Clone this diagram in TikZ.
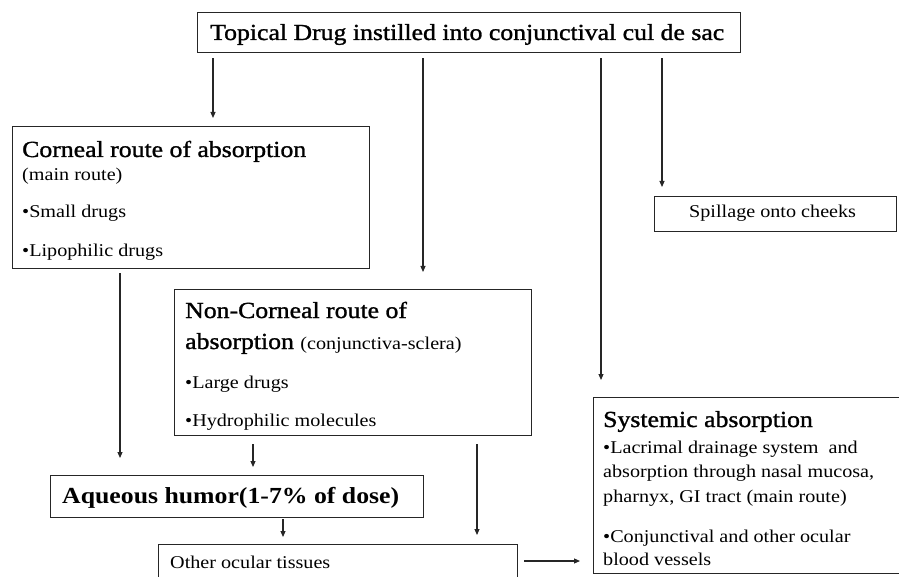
\documentclass[tikz,border=0pt]{standalone}
\usepackage{fontspec}
\setmainfont{Liberation Serif}[FakeStretch=1.12]
\newfontfamily\headfont{Liberation Serif}[FakeStretch=1.12, FakeBold=1.2]
\usetikzlibrary{arrows.meta}
\tikzset{
  box/.style={draw=black!85, line width=1.4pt, inner sep=0pt, anchor=north west},
  arr/.style={draw=black!85, line width=1.1pt, -{Triangle[length=6pt,width=5pt]}},
  txt/.style={anchor=base west, inner sep=0pt, align=left},
}
\newcommand{\fs}[1]{\fontsize{#1}{#1}\selectfont}
\begin{document}
\begin{tikzpicture}[x=1pt,y=-1pt]
\clip (0,0) rectangle (899,577);
\fill[white] (0,0) rectangle (899,577);
% boxes
\node[box, minimum width=543pt, minimum height=40pt] (top) at (197,12) {};
\node[box, minimum width=357pt, minimum height=142pt] (corn) at (12,126) {};
\node[box, minimum width=357pt, minimum height=146pt] (ncorn) at (174,289) {};
\node[box, minimum width=242pt, minimum height=35pt] (spill) at (654,196) {};
\node[box, minimum width=320pt, minimum height=176pt] (sys) at (593,397) {};
\node[box, minimum width=373pt, minimum height=42pt] (aq) at (50,475) {};
\node[box, minimum width=359pt, minimum height=50pt] (oth) at (158,544) {};
% texts
\node[txt] (t1) at (210,40) {\fs{23}\headfont Topical Drug instilled into conjunctival cul de sac};
\node[txt] (c1) at (22,157) {\fs{23}\headfont Corneal route of absorption};
\node[txt] (c2) at (22,181) {\fs{18}(main route)};
\node[txt] (c3) at (22,218) {\fs{18}•Small drugs};
\node[txt] (c4) at (22,257) {\fs{18}•Lipophilic drugs};
\node[txt] (n1) at (185,318) {\fs{23}\headfont Non-Corneal route of};
\node[txt] (n2) at (185,349) {\fs{23}\headfont absorption \fs{18}\normalfont(conjunctiva-sclera)};
\node[txt] (n3) at (185,388) {\fs{18}•Large drugs};
\node[txt] (n4) at (185,426) {\fs{18}•Hydrophilic molecules};
\node[txt] (s0) at (689,218) {\fs{18}Spillage onto cheeks};
\node[txt] (y1) at (603,427) {\fs{23}\headfont Systemic absorption};
\node[txt] (y2) at (603,453) {\fs{18}•Lacrimal drainage system\ \ and};
\node[txt] (y3) at (603,477) {\fs{18}absorption through nasal mucosa,};
\node[txt] (y4) at (603,502) {\fs{18}pharnyx, GI tract (main route)};
\node[txt] (y5) at (603,542) {\fs{18}•Conjunctival and other ocular};
\node[txt] (y6) at (603,565) {\fs{18}blood vessels};
\node[txt] (a1) at (62,503) {\fs{23}\bfseries Aqueous humor(1-7\% of dose)};
\node[txt] (o1) at (170,568) {\fs{18}Other ocular tissues};
% connectors
\draw[arr] ([xshift=16pt,yshift=-5pt]top.south west) -- ([xshift=16pt,yshift=8pt]top.south west |- corn.north);
\draw[arr] ([xshift=226pt,yshift=-5pt]top.south west) -- ([xshift=226pt,yshift=17pt]top.south west |- ncorn.north);
\draw[arr] ([xshift=404pt,yshift=-5pt]top.south west) -- ([xshift=404pt,yshift=17pt]top.south west |- sys.north);
\draw[arr] ([xshift=465pt,yshift=-5pt]top.south west) -- ([xshift=465pt,yshift=9pt]top.south west |- spill.north);
\draw[arr] ([xshift=108pt,yshift=-4pt]corn.south west) -- ([xshift=108pt,yshift=17pt]corn.south west |- aq.north);
\draw[arr] ([xshift=79pt,yshift=-8pt]ncorn.south west) -- ([xshift=79pt,yshift=8pt]ncorn.south west |- aq.north);
\draw[arr] ([xshift=233pt,yshift=-1pt]aq.south west) -- ([xshift=233pt,yshift=7pt]aq.south west |- oth.north);
\draw[arr] ([xshift=303pt,yshift=-8pt]ncorn.south west) -- ([xshift=303pt,yshift=9pt]ncorn.south west |- oth.north);
\draw[arr] ([xshift=6pt]oth.north east |- 0,561) -- ([xshift=-13pt]sys.west |- 0,561);
\end{tikzpicture}
\end{document}
